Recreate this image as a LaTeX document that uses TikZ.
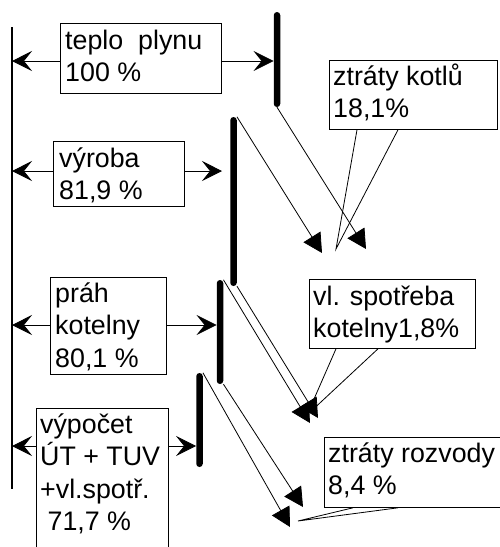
\documentclass[tikz,border=0pt]{standalone}
\usepackage{fontspec}
\setmainfont{Liberation Sans}
\usetikzlibrary{arrows.meta}
\newcommand\txtlines[1]{\begin{tabular}[t]{@{}l@{}}#1\end{tabular}}
\begin{document}
\begin{tikzpicture}[x=1pt,y=-1pt,
  box/.style={draw, line width=0.8pt, inner sep=0pt, anchor=north west},
  txt/.style={anchor=base west, inner sep=0pt, font=\fontsize{26.8}{32.5}\selectfont},
  bar/.style={fill=black, inner sep=0pt, minimum width=6.5pt, rounded corners=3.2pt},
  harrow/.style={line width=0.8pt, -{Stealth[length=20pt,width=20pt,inset=8pt]}},
  darrow/.style={line width=0.8pt, -{Triangle[length=19pt,width=20pt]}},
  pointer/.style={line width=0.8pt, line join=miter},
  spinestyle/.style={fill=black, inner sep=0pt, minimum width=2.2pt}]
\useasboundingbox (0,0) rectangle (499,547);

% spine
\node[spinestyle, minimum height=462pt] (spine) at (12,258) {};

% bars
\node[bar, minimum height=95pt]  (bar1) at (277,59.5) {};
\node[bar, minimum height=169pt] (bar2) at (233.5,201.5) {};
\node[bar, minimum height=104pt] (bar3) at (220,332) {};
\node[bar, minimum height=94pt]  (bar4) at (199.5,420) {};

% boxes
\node[box, minimum width=161pt, minimum height=70pt] (b1) at (60,23) {};
\node[box, minimum width=131pt, minimum height=65pt] (b2) at (53,141) {};
\node[box, minimum width=116pt, minimum height=97pt] (b3) at (50,277) {};
\node[box, minimum width=132pt, minimum height=150pt] (b4) at (36,408) {};
\node[box, minimum width=168pt, minimum height=69pt] (c1) at (329,60) {};
\node[box, minimum width=166pt, minimum height=69pt] (c2) at (309,279) {};
\node[box, minimum width=200pt, minimum height=70pt] (c3) at (324,437) {};

% texts
\node[txt] (t1) at (65,49) {\txtlines{teplo\ \ plynu\\100 \%}};
\node[txt] (t2) at (59,167) {\txtlines{výroba\\81,9 \%}};
\node[txt] (t3) at (55,302) {\txtlines{práh\\kotelny\\80,1 \%}};
\node[txt] (t4) at (40,433) {\txtlines{výpočet\\ÚT + TUV\\+vl.spotř.\\\ 71,7 \%}};
\node[txt] (tc1) at (333,85) {\txtlines{ztráty kotlů\\18,1\%}};
\node[txt] (tc2) at (313,305) {\txtlines{vl. spotřeba\\kotelny1,8\%}};
\node[txt] (tc3) at (328,462) {\txtlines{ztráty rozvody\\8,4 \%}};

% horizontal arrows
\draw[harrow] (b1.west |- 0,61) -- (spine |- 0,61);
\draw[harrow] (b1.east |- 0,61) -- (bar1.west |- 0,61);
\coordinate (a2r) at (222,171);
\draw[harrow] (b2.west |- 0,171) -- (spine |- 0,171);
\draw[harrow] (b2.east |- 0,171) -- (a2r);
\draw[harrow] (b3.west |- 0,325) -- (spine |- 0,325);
\draw[harrow] (b3.east |- 0,325) -- (bar3.west |- 0,325);
\draw[harrow] (b4.west |- 0,446) -- (spine |- 0,446);
\draw[harrow] (b4.east |- 0,446) -- (bar4.west |- 0,446);

% diagonal arrows
\coordinate (d1) at (366,249);
\coordinate (d2) at (322,253);
\coordinate (d3) at (318,418);
\coordinate (d4) at (310,423);
\coordinate (d5) at (303,507);
\coordinate (d6) at (290,527);
\draw[darrow] (bar1.south) -- (d1);
\draw[darrow] (bar2.north east) -- (d2);
\draw[darrow] (bar2.south east) -- (d3);
\draw[darrow] (bar3.north east) -- (d4);
\draw[darrow] (bar3.south east) -- (d5);
\draw[darrow] (bar4.north east) -- (d6);

% callout pointers
\coordinate (p1) at (336,249);
\coordinate (p2) at (307,415);
\coordinate (p3) at (298,521);
\draw[pointer] (357,0 |- c1.south) -- (p1) -- (398,0 |- c1.south);
\draw[pointer] (336,0 |- c2.south) -- (p2) -- (378,0 |- c2.south);
\draw[pointer] (353,0 |- c3.south) -- (p3) -- (398,0 |- c3.south);
\end{tikzpicture}
\end{document}
